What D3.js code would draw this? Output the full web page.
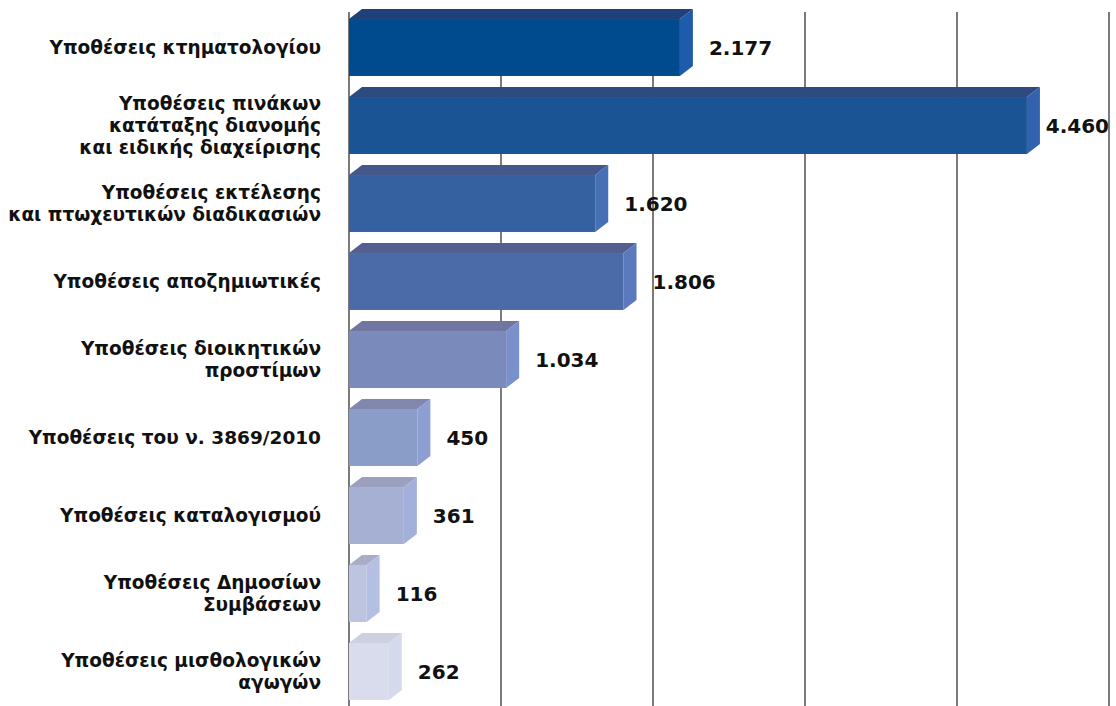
<!DOCTYPE html>
<html>
<head>
<meta charset="utf-8">
<script src="https://cdn.jsdelivr.net/npm/d3@7"></script>
<style>
  html, body { margin: 0; padding: 0; background: #fff; }
  svg { display: block; }
  text { font-family: "DejaVu Sans", sans-serif; font-weight: 700; fill: #111; }
</style>
</head>
<body>
<svg id="chart" width="1116" height="706"></svg>
<script>
const categories = [
  ["Υποθέσεις κτηματολογίου"],
  ["Υποθέσεις πινάκων", "κατάταξης διανομής", "και ειδικής διαχείρισης"],
  ["Υποθέσεις εκτέλεσης", "και πτωχευτικών διαδικασιών"],
  ["Υποθέσεις αποζημιωτικές"],
  ["Υποθέσεις διοικητικών", "προστίμων"],
  ["Υποθέσεις του ν. 3869/2010"],
  ["Υποθέσεις καταλογισμού"],
  ["Υποθέσεις Δημοσίων", "Συμβάσεων"],
  ["Υποθέσεις μισθολογικών", "αγωγών"]
];
const values = [2177, 4460, 1620, 1806, 1034, 450, 361, 116, 262];
const valueLabels = ["2.177", "4.460", "1.620", "1.806", "1.034", "450", "361", "116", "262"];
const gridTicks = [0, 1000, 2000, 3000, 4000, 5000];

const frontColors = ["#004b8e", "#1a5494", "#3661a0", "#4a6ba8", "#798abb", "#8a9cc8", "#a6b0d3", "#bcc4e0", "#d9dcec"];
const topColors   = ["#1f4079", "#2e4b80", "#44588b", "#525f90", "#6f76a0", "#8088ad", "#9aa0bd", "#a9adc6", "#cdd0df"];
const sideColors  = ["#1e5bab", "#3262ae", "#4570b5", "#5a7abd", "#7a90cc", "#8c9ed2", "#a3b0dc", "#b4bfe4", "#d5d9ee"];

const svg = d3.select("#chart");
const W = 1116, H = 706;
const x = d3.scaleLinear().domain([0, 5000]).range([349, 1109]);
const ids = d3.range(categories.length);
const y = d3.scaleBand().domain(ids).range([8.5, 710.5]).paddingInner(0.27).paddingOuter(0.135);
const dx = 13, dy = 10;
const gridTop = 12;

svg.append("g").selectAll("line").data(gridTicks).join("line")
  .attr("x1", d => x(d)).attr("x2", d => x(d))
  .attr("y1", gridTop).attr("y2", H)
  .attr("stroke", "#333").attr("stroke-width", 1.3);

const bars = svg.append("g").selectAll("g").data(ids).join("g");

bars.append("path")
  .attr("d", i => {
    const x0 = x(0), x1 = x(values[i]), yt = y(i);
    return `M${x0},${yt}L${x0 + dx},${yt - dy}L${x1 + dx},${yt - dy}L${x1},${yt}Z`;
  })
  .attr("fill", i => topColors[i]);
bars.append("path")
  .attr("d", i => {
    const x1 = x(values[i]), yt = y(i), h = y.bandwidth();
    return `M${x1},${yt}L${x1 + dx},${yt - dy}L${x1 + dx},${yt + h - dy}L${x1},${yt + h}Z`;
  })
  .attr("fill", i => sideColors[i]);
bars.append("rect")
  .attr("x", x(0)).attr("y", i => y(i))
  .attr("width", i => x(values[i]) - x(0))
  .attr("height", y.bandwidth())
  .attr("fill", i => frontColors[i]);

const vl = bars.append("text")
  .attr("y", i => y(i) + y.bandwidth() / 2 + 2)
  .attr("dominant-baseline", "middle")
  .style("font-size", "20px")
  .text(i => valueLabels[i]);
vl.attr("x", function(i) {
  const w = this.getComputedTextLength();
  return Math.min(x(values[i]) + dx + 16, W - 7 - w);
});

const lineH = 22;
const cl = svg.append("g").selectAll("text").data(ids).join("text")
  .attr("text-anchor", "end")
  .style("font-size", "18.5px")
  .attr("x", 321)
  .attr("y", i => y(i) + y.bandwidth() / 2);
cl.each(function(i) {
  const lines = categories[i];
  const n = lines.length;
  d3.select(this).selectAll("tspan").data(lines).join("tspan")
    .attr("x", 321)
    .attr("dy", (d, k) => k === 0 ? (-(n - 1) / 2 * lineH + 6) : lineH)
    .text(d => d);
});
</script>
</body>
</html>
